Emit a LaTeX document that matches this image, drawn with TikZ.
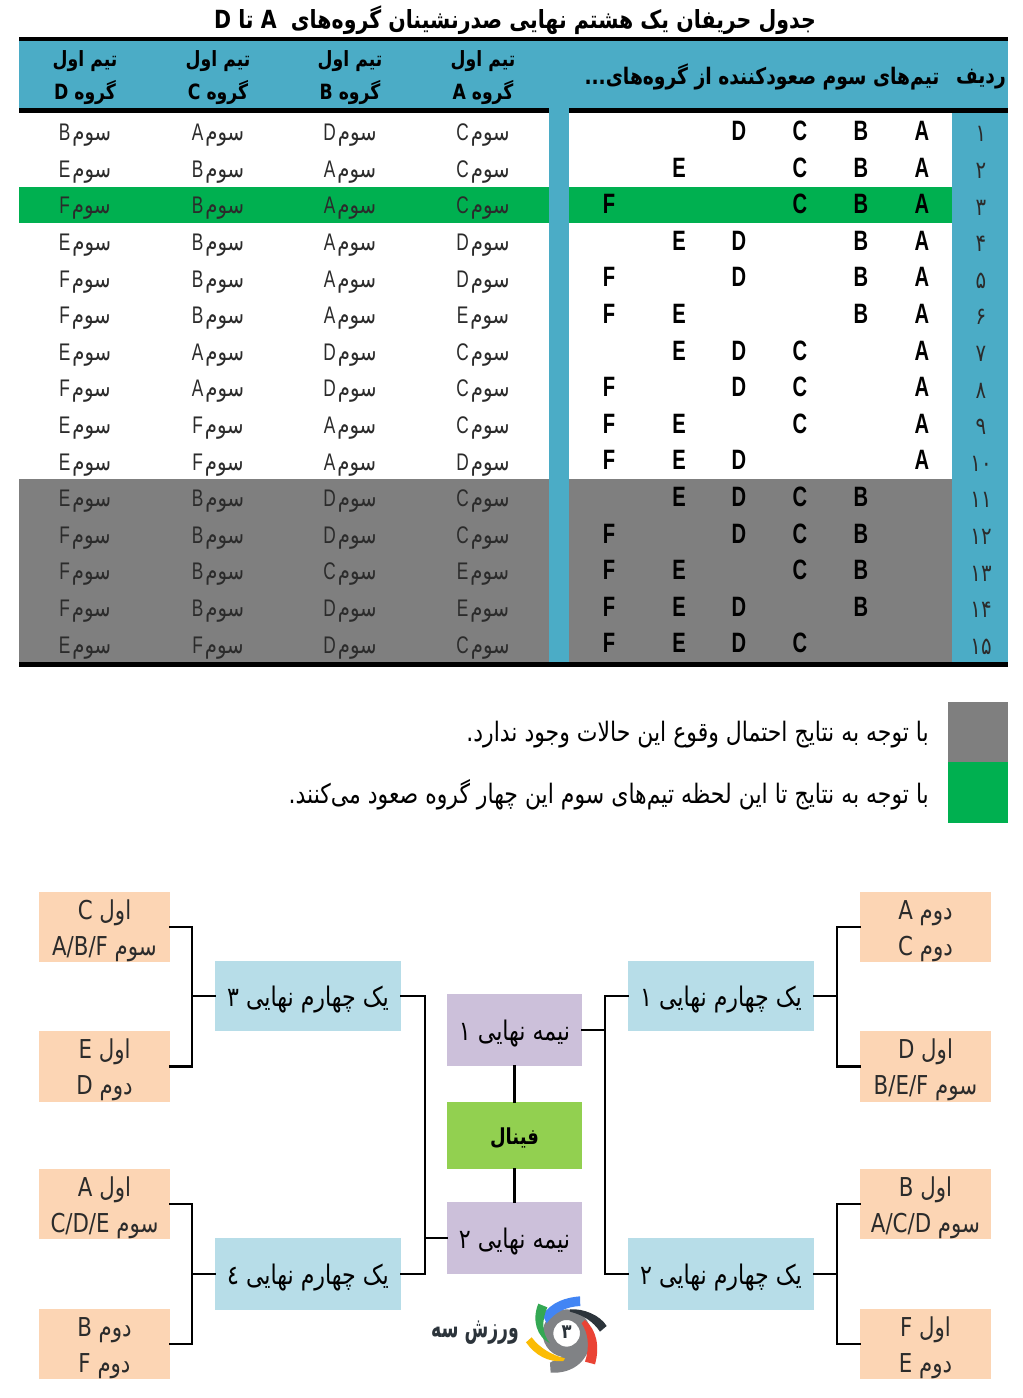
\documentclass[tikz,border=0pt]{standalone}
\usepackage{fontspec}
\TeXXeTstate=1
\newfontfamily\arfont[Script=Arabic,FakeStretch=0.82]{DejaVu Sans}
\newfontfamily\latf[FakeStretch=0.72]{Liberation Sans}
\setmainfont{Liberation Sans}
\definecolor{hdr}{HTML}{4BACC6}
\definecolor{grn}{HTML}{00B050}
\definecolor{gry}{HTML}{7F7F7F}
\definecolor{peach}{HTML}{FCD5B4}
\definecolor{qfc}{HTML}{B7DDE8}
\definecolor{sfc}{HTML}{CCC0DA}
\definecolor{fin}{HTML}{92D050}
\definecolor{ink}{HTML}{2B2B2B}
\definecolor{lgray}{HTML}{808285}
\definecolor{lblue}{HTML}{4285F4}
\definecolor{ldark}{HTML}{2C343B}
\definecolor{lred}{HTML}{EA4335}
\definecolor{lgreen}{HTML}{34A853}
\definecolor{lyellow}{HTML}{FBBC05}
\tikzset{
  x=1pt,y=-1pt,
  txt/.style={inner sep=0pt,text=ink},
  titlet/.style={txt,text=black,font=\arfont\bfseries\fontsize{25}{28}\selectfont},
  headt/.style={txt,text=black,align=center,font=\arfont\bfseries\fontsize{21}{33}\selectfont},
  headw/.style={txt,text=black,font=\arfont\bfseries\fontsize{22.8}{28}\selectfont},
  third/.style={txt,font=\arfont\fontsize{24}{28}\selectfont},
  letter/.style={txt,text=black,font=\latf\bfseries\fontsize{28}{30}\selectfont},
  rownum/.style={txt,font=\arfont\fontsize{24}{28}\selectfont},
  legendt/.style={txt,text=black,anchor=east,font=\arfont\fontsize{26.8}{30}\selectfont},
  peachbox/.style={fill=peach,txt,minimum width=131,align=center,font=\arfont\fontsize{26}{36}\selectfont},
  qfbox/.style={fill=qfc,txt,text=black,minimum width=186,font=\arfont\fontsize{27}{30}\selectfont},
  sfbox/.style={fill=sfc,txt,text=black,minimum width=135,minimum height=72,font=\arfont\fontsize{27}{30}\selectfont},
  finbox/.style={fill=fin,txt,text=black,minimum width=135,minimum height=67,font=\arfont\bfseries\fontsize{22}{28}\selectfont},
  conn/.style={draw=black,line width=2.8pt,line cap=rect},
}
\def\xA{922}\def\xB{861}\def\xC{800}\def\xD{739}\def\xE{679}\def\xF{609}
\newcommand\topstrut{\rule{0pt}{27pt}}
\newcommand\botstrut{\rule[-7pt]{0pt}{0pt}}
\newcommand\lowr[2]{\raisebox{-#1pt}[0pt][0pt]{#2}}
\begin{document}
\begin{tikzpicture}
\useasboundingbox (0,0) rectangle (1023,1398);
\fill[white] (0,0) rectangle (1023,1398);
% title
\node[titlet] (title) at (515,20) {\beginR جدول حریفان یک هشتم نهایی صدرنشینان گروه‌های \ \beginL A\endL{} تا \beginL D\endL\endR};
% table fills
\fill[grn] (19,186.6) rectangle (952,223.2);
\fill[gry] (19,479.4) rectangle (952,662);
\fill[hdr] (19,41) rectangle (1008,108);
\fill[hdr] (549,108) rectangle (569,662);
\fill[hdr] (952,113) rectangle (1008,662);
\fill[black] (19,37) rectangle (1008,41);
\fill[black] (19,108) rectangle (549,113);
\fill[black] (569,108) rectangle (1008,113);
\fill[black] (19,662) rectangle (1008,667);
% header
\foreach \nm/\x/\g in {a/483/A,b/350/B,c/218/C,d/85/D}{
  \node[headt] (h\nm) at (\x,78) {\beginR تیم اول\endR\\\beginR گروه \beginL\g\endL\endR};
}
\node[headw] (hteams) at (762,77) {\beginR تیم‌های سوم صعودکننده از گروه‌های...\endR};
\node[headw] (hrow) at (981,79) {\beginR ردیف\endR};
% rows
\foreach \i/\n/\a/\b/\c/\d/\T in {
 1/۱/C/D/A/B/{A,B,C,D},
 2/۲/C/A/B/E/{A,B,C,E},
 3/۳/C/A/B/F/{A,B,C,F},
 4/۴/D/A/B/E/{A,B,D,E},
 5/۵/D/A/B/F/{A,B,D,F},
 6/۶/E/A/B/F/{A,B,E,F},
 7/۷/C/D/A/E/{A,C,D,E},
 8/۸/C/D/A/F/{A,C,D,F},
 9/۹/C/A/F/E/{A,C,E,F},
 10/۱۰/D/A/F/E/{A,D,E,F},
 11/۱۱/C/D/B/E/{B,C,D,E},
 12/۱۲/C/D/B/F/{B,C,D,F},
 13/۱۳/E/C/B/F/{B,C,E,F},
 14/۱۴/E/D/B/F/{B,D,E,F},
 15/۱۵/C/D/F/E/{C,D,E,F}}{
  \pgfmathsetmacro\yc{113+36.6*(\i-0.5)}
  \node[rownum] (n\i) at (981,\yc+3) {\n};
  \foreach \t in \T {
    \node[letter] (t\i\t) at (\csname x\t\endcsname,\yc-0.5) {\t};
  }
  \node[third] (ra\i) at (483,\yc+4) {\beginR سوم\kern2pt\beginL{\latf\a}\endL\endR};
  \node[third] (rb\i) at (350,\yc+4) {\beginR سوم\kern2pt\beginL{\latf\b}\endL\endR};
  \node[third] (rc\i) at (218,\yc+4) {\beginR سوم\kern2pt\beginL{\latf\c}\endL\endR};
  \node[third] (rd\i) at (85,\yc+4) {\beginR سوم\kern2pt\beginL{\latf\d}\endL\endR};
}
% legend
\fill[gry] (948,702) rectangle (1008,762);
\fill[grn] (948,762) rectangle (1008,823);
\node[legendt] (lg1) at (929,735) {\beginR با توجه به نتایج احتمال وقوع این حالات وجود ندارد.\endR};
\node[legendt] (lg2) at (929,795) {\beginR با توجه به نتایج تا این لحظه تیم‌های سوم این چهار گروه صعود می‌کنند.\endR};
% bracket boxes: left
\node[peachbox,minimum height=70] (l1) at (104.5,927) {\topstrut\beginR اول \beginL C\endL\endR\\\beginR سوم \beginL A/B/F\endL\endR\botstrut};
\node[peachbox,minimum height=71] (l2) at (104.5,1066.5) {\topstrut\beginR اول \beginL E\endL\endR\\\beginR دوم \beginL D\endL\endR\botstrut};
\node[peachbox,minimum height=70] (l3) at (104.5,1204) {\topstrut\beginR اول \beginL A\endL\endR\\\beginR سوم \beginL C/D/E\endL\endR\botstrut};
\node[peachbox,minimum height=70] (l4) at (104.5,1344) {\topstrut\beginR دوم \beginL B\endL\endR\\\beginR دوم \beginL F\endL\endR\botstrut};
% right
\node[peachbox,minimum height=70] (r1) at (925.5,927) {\topstrut\beginR دوم \beginL A\endL\endR\\\beginR دوم \beginL C\endL\endR\botstrut};
\node[peachbox,minimum height=71] (r2) at (925.5,1066.5) {\topstrut\beginR اول \beginL D\endL\endR\\\beginR سوم \beginL B/E/F\endL\endR\botstrut};
\node[peachbox,minimum height=70] (r3) at (925.5,1204) {\topstrut\beginR اول \beginL B\endL\endR\\\beginR سوم \beginL A/C/D\endL\endR\botstrut};
\node[peachbox,minimum height=70] (r4) at (925.5,1344) {\topstrut\beginR اول \beginL F\endL\endR\\\beginR دوم \beginL E\endL\endR\botstrut};
% quarter finals
\node[qfbox,minimum height=70] (q3) at (308,996) {\lowr{10}{\beginR یک چهارم نهایی ۳\endR}};
\node[qfbox,minimum height=72] (q4) at (308,1274) {\lowr{10}{\beginR یک چهارم نهایی ٤\endR}};
\node[qfbox,minimum height=70] (q1) at (721,996) {\lowr{10}{\beginR یک چهارم نهایی ۱\endR}};
\node[qfbox,minimum height=72] (q2) at (721,1274) {\lowr{10}{\beginR یک چهارم نهایی ۲\endR}};
% semis and final
\node[sfbox] (s1) at (514.5,1030) {\lowr{10}{\beginR نیمه نهایی ۱\endR}};
\node[sfbox] (s2) at (514.5,1238) {\lowr{10}{\beginR نیمه نهایی ۲\endR}};
\node[finbox] (f) at (514.5,1135.5) {\lowr{9}{\beginR فینال\endR}};
% junctions
\coordinate (jl1) at (192,996);
\coordinate (jl2) at (192,1274);
\coordinate (jr1) at (837,996);
\coordinate (jr2) at (837,1274);
\coordinate (jm1) at (425,1238);
\coordinate (jm2) at (605,1030);
% connectors
\draw[conn] (l1.east) -| (jl1) |- (l2.east);
\draw[conn] (jl1) -- (q3.west);
\draw[conn] (l3.east) -| (jl2) |- (l4.east);
\draw[conn] (jl2) -- (q4.west);
\draw[conn] (r1.west) -| (jr1) |- (r2.west);
\draw[conn] (jr1) -- (q1.east);
\draw[conn] (r3.west) -| (jr2) |- (r4.west);
\draw[conn] (jr2) -- (q2.east);
\draw[conn] (q3.east) -| (jm1) |- (q4.east);
\draw[conn] (jm1) -- (s2.west);
\draw[conn] (q1.west) -| (jm2) |- (q2.west);
\draw[conn] (jm2) -- (s1.east);
\draw[conn] (s1) -- (f);
\draw[conn] (s2) -- (f);
% logo
\begin{scope}[shift={(400,1180)},scale=0.3333]
\fill[lgray] (452,578) .. controls (520,582) and (572,540) .. (572,470) -- (540,500) -- (450,548) -- cycle;
\fill[lgray,even odd rule] (500,460) circle (72) (500,460) circle (40);
\fill[lblue] (428,405) .. controls (455,365) and (500,352) .. (540,349) -- (541,378) .. controls (500,380) and (465,395) .. (440,430) -- cycle;
\fill[ldark] (510,388) .. controls (550,385) and (600,405) .. (620,438) -- (600,455) .. controls (580,425) and (550,405) .. (510,395) -- cycle;
\fill[lred] (555,420) .. controls (590,450) and (600,500) .. (585,553) -- (555,545) .. controls (570,500) and (565,460) .. (545,430) -- cycle;
\fill[lgreen] (415,371) -- (442,382) .. controls (425,420) and (425,460) .. (450,490) .. controls (410,470) and (395,420) .. (415,371) -- cycle;
\fill[lyellow] (378,487) -- (395,472) .. controls (420,505) and (455,525) .. (495,535) -- (490,543) .. controls (445,548) and (405,525) .. (378,487) -- cycle;
\end{scope}
\node[txt,font=\arfont\bfseries\fontsize{20}{22}\selectfont,text=ldark] (logod) at (566.5,1332) {۳};
\node[txt,font=\arfont\bfseries\fontsize{21}{24}\selectfont,text=ldark] (logot) at (475,1333) {\scalebox{1}[1.35]{\beginR ورزش سه\endR}};
\end{tikzpicture}
\end{document}
